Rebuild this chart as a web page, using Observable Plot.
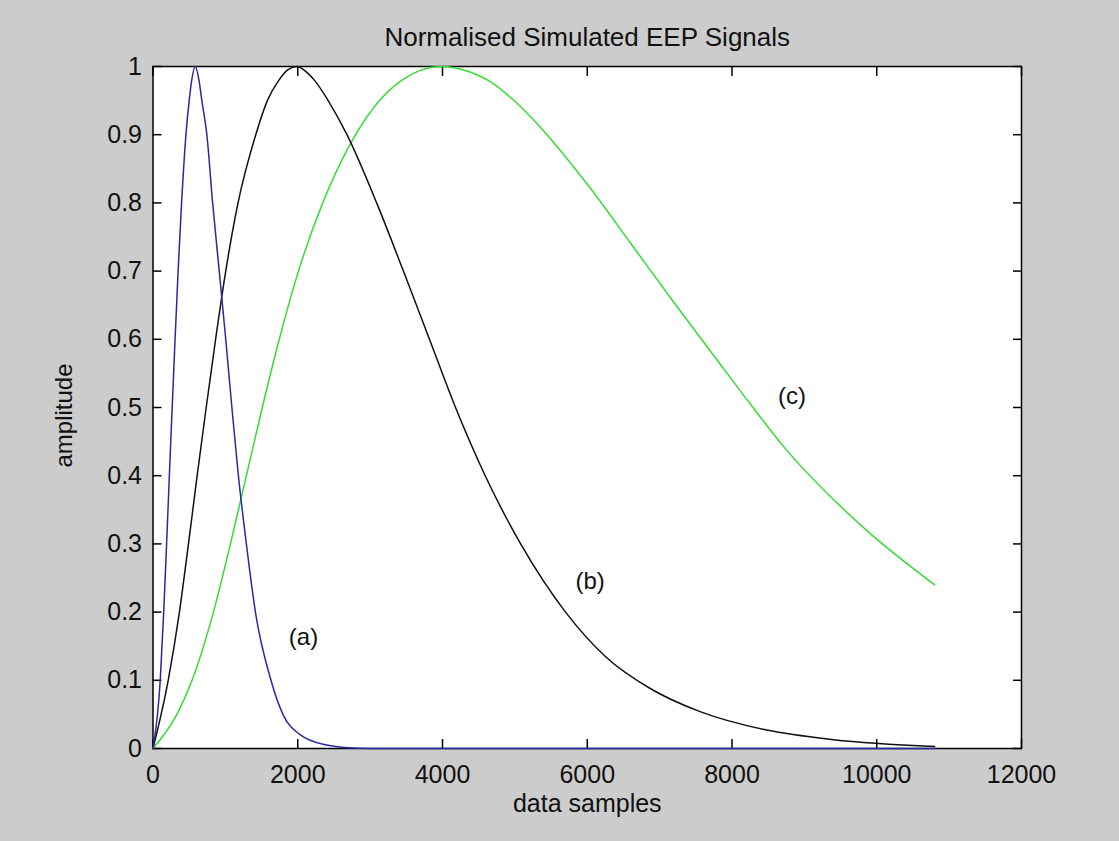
<!DOCTYPE html>
<html>
<head>
<meta charset="utf-8">
<script src="https://cdn.jsdelivr.net/npm/d3@7"></script>
<script src="https://cdn.jsdelivr.net/npm/@observablehq/plot@0.6"></script>
<style>
html, body { margin: 0; padding: 0; background: #cccccc; overflow: hidden; }
</style>
</head>
<body>
<div id="chart"></div>
<script>
const title = "Normalised Simulated EEP Signals";
const xLabel = "data samples";
const yLabel = "amplitude";
const xTicks = [0, 2000, 4000, 6000, 8000, 10000, 12000];
const yTicks = [0, 0.1, 0.2, 0.3, 0.4, 0.5, 0.6, 0.7, 0.8, 0.9, 1];

// (a) blue signal
const aX = [0, 100, 148, 188, 226, 265, 305, 347, 395, 455, 500, 535, 585, 635, 675, 744, 824, 915, 1005, 1090, 1180, 1290, 1415, 1630, 1795, 2037, 2400, 2700, 3000, 10800];
const aY = [0, 0.1, 0.2, 0.3, 0.4, 0.5, 0.6, 0.7, 0.8, 0.9, 0.95, 0.98, 1.0, 0.98, 0.95, 0.9, 0.8, 0.7, 0.6, 0.5, 0.4, 0.3, 0.2, 0.1, 0.05, 0.02, 0.005, 0.001, 0, 0];

// (b) black signal
const bX = [0, 210, 365, 490, 610, 735, 865, 1005, 1175, 1420, 1580, 1740, 1860, 1990, 2140, 2230, 2420, 2680, 3090, 3460, 3820, 4180, 4590, 5080, 5700, 6250, 6870, 7560, 8480, 9400, 10800];
const bY = [0, 0.1, 0.2, 0.3, 0.4, 0.5, 0.6, 0.7, 0.8, 0.9, 0.95, 0.98, 0.995, 1.0, 0.99, 0.98, 0.95, 0.9, 0.8, 0.7, 0.6, 0.5, 0.4, 0.3, 0.2, 0.135, 0.088, 0.054, 0.027, 0.013, 0.003];

// (c) green signal
const cX = [0, 330, 540, 835, 1070, 1290, 1510, 1745, 2010, 2345, 2800, 3130, 3440, 3980, 4350, 4700, 5000, 5351, 5996, 6640, 7239, 7791, 8297, 8711, 9402, 9955, 10800];
const cY = [0, 0.05, 0.1, 0.2, 0.3, 0.4, 0.5, 0.6, 0.7, 0.8, 0.9, 0.95, 0.98, 1.0, 0.993, 0.975, 0.949, 0.911, 0.828, 0.735, 0.648, 0.57, 0.499, 0.443, 0.365, 0.311, 0.24];

const labelText = ["(a)", "(b)", "(c)"];
const labelX = [2080, 6040, 8830];
const labelY = [0.163, 0.245, 0.516];

const toRows = (xs, ys) => xs.map((x, i) => ({x, y: ys[i]}));
const rowsA = toRows(aX, aY);
const rowsB = toRows(bX, bY);
const rowsC = toRows(cX, cY);
const labels = labelText.map((t, i) => ({t, x: labelX[i], y: labelY[i]}));

const font = "'Liberation Sans', Arial, 'DejaVu Sans', sans-serif";
const fmtY = d => String(+d.toFixed(1));
const fmtX = d => String(d);

const chart = Plot.plot({
  width: 1119,
  height: 841,
  marginLeft: 152.5,
  marginRight: 98,
  marginTop: 66,
  marginBottom: 93,
  x: {domain: [0, 12000]},
  y: {domain: [0, 1]},
  style: {background: "#cccccc", fontFamily: font, fontSize: "25px", color: "black", overflow: "visible"},
  marks: [
    Plot.frame({fill: "white"}),
    Plot.frame({stroke: "black", strokeWidth: 1.5}),
    Plot.axisX({anchor: "bottom", ticks: xTicks, tickSize: -9, tickFormat: () => "", label: null, strokeWidth: 1.5}),
    Plot.axisX({anchor: "top", ticks: xTicks, tickSize: -9, tickFormat: () => "", label: null, strokeWidth: 1.5}),
    Plot.axisY({anchor: "left", ticks: yTicks, tickSize: -9, tickFormat: () => "", label: null, strokeWidth: 1.5}),
    Plot.axisY({anchor: "right", ticks: yTicks, tickSize: -9, tickFormat: () => "", label: null, strokeWidth: 1.5}),
    Plot.axisX({anchor: "bottom", ticks: xTicks, tickSize: 0, tickPadding: 17, tickFormat: fmtX, label: null, fontSize: 25, fill: "#111"}),
    Plot.axisY({anchor: "left", ticks: yTicks, tickSize: 0, tickPadding: 11, tickFormat: fmtY, label: null, fontSize: 25, fill: "#111"}),
    Plot.line(rowsC, {x: "x", y: "y", stroke: "#33dd33", strokeWidth: 1.5, curve: "monotone-x"}),
    Plot.line(rowsB, {x: "x", y: "y", stroke: "#111111", strokeWidth: 1.5, curve: "monotone-x"}),
    Plot.line(rowsA, {x: "x", y: "y", stroke: "#2a2aa0", strokeWidth: 1.5, curve: "monotone-x"}),
    Plot.text(labels, {x: "x", y: "y", text: "t", fontSize: 24, fill: "#111", textAnchor: "middle", lineAnchor: "middle"}),
    Plot.text([title], {frameAnchor: "top", dy: -29, fontSize: 26, fill: "#111", lineAnchor: "middle"}),
    Plot.text([xLabel], {frameAnchor: "bottom", dy: 55, fontSize: 25, fill: "#111", lineAnchor: "middle"}),
    Plot.text([yLabel], {frameAnchor: "left", dx: -89, dy: 8, rotate: -90, fontSize: 24, fill: "#111", textAnchor: "middle", lineAnchor: "middle"})
  ]
});
document.getElementById("chart").appendChild(chart);
</script>
</body>
</html>
